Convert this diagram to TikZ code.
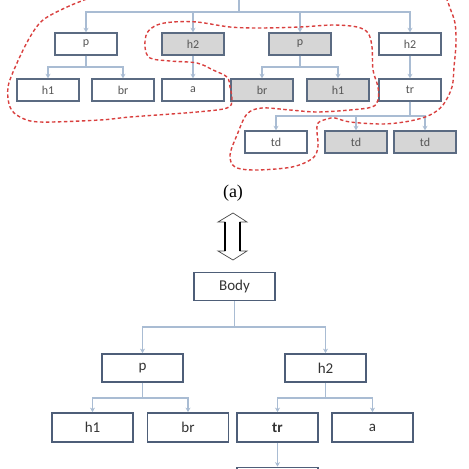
\documentclass[tikz,border=0pt]{standalone}
\usepackage{fontspec}
\setmainfont{Carlito}
\usetikzlibrary{arrows.meta}
\definecolor{boxline}{HTML}{5B6B82}
\definecolor{boxlineB}{HTML}{4E5E78}
\definecolor{graybox}{HTML}{D6D6D6}
\definecolor{conncol}{HTML}{A9BCD3}
\definecolor{txtA}{HTML}{555555}
\definecolor{txtB}{HTML}{333333}
\definecolor{redline}{HTML}{D9403F}
\tikzset{
  tbox/.style={draw=boxline, line width=1.4pt, fill=white, minimum width=62pt, minimum height=22pt, inner sep=0pt, text=txtA, font=\fontsize{12}{12}\selectfont},
  tgray/.style={tbox, fill=graybox},
  bbox/.style={draw=boxlineB, line width=1.8pt, fill=white, minimum width=81pt, minimum height=28pt, inner sep=0pt, text=txtB, font=\fontsize{15}{15}\selectfont},
  arr/.style={draw=conncol, line width=1.1pt, -{Stealth[length=4.5pt,width=5pt]}},
  reddash/.style={draw=redline, line width=1.4pt, dash pattern=on 3.5pt off 2.5pt},
}
\begin{document}
\begin{tikzpicture}[x=1pt,y=-1pt]
\useasboundingbox (0,0) rectangle (469,469);
\begin{scope}
\clip (0,0) rectangle (469,469);
% ---------- top tree (a) ----------
\coordinate (root) at (239,-2);
\node[tbox]  (pA)   at (86,44)  {p};
\node[tgray] (h2A)  at (193,44) {h2};
\node[tgray] (pB)   at (300,44) {p};
\node[tbox]  (h2B)  at (410,44) {h2};
\node[tbox]  (h1A)  at (48,90)  {h1};
\node[tbox]  (brA)  at (123,90) {br};
\node[tbox]  (aA)   at (193,90) {a};
\node[tgray] (brB)  at (262,90) {br};
\node[tgray] (h1B)  at (338,90) {h1};
\node[tbox]  (trA)  at (410,90) {tr};
\node[tbox]  (tdA)  at (276,142) {td};
\node[tgray] (tdB)  at (356,142) {td};
\node[tgray] (tdC)  at (425,142) {td};

\draw[arr] (root) |- (pA.north |- 0,12) -- (pA.north);
\draw[arr] (root) |- (h2A.north |- 0,12) -- (h2A.north);
\draw[arr] (root) |- (pB.north |- 0,12) -- (pB.north);
\draw[arr] (root) |- (h2B.north |- 0,12) -- (h2B.north);
\draw[arr] (pA.south) |- (h1A.north |- 0,67) -- (h1A.north);
\draw[arr] (pA.south) |- (brA.north |- 0,67) -- (brA.north);
\draw[arr] (h2A.south) -- (aA.north);
\draw[arr] (pB.south) |- (brB.north |- 0,67) -- (brB.north);
\draw[arr] (pB.south) |- (h1B.north |- 0,67) -- (h1B.north);
\draw[arr] (h2B.south) -- (trA.north);
\draw[arr] (trA.south) |- (tdA.north |- 0,116) -- (tdA.north);
\draw[arr] (trA.south) |- (tdB.north |- 0,116) -- (tdB.north);
\draw[arr] (trA.south) |- (tdC.north |- 0,116) -- (tdC.north);

% red dashed outline
\draw[reddash] plot[smooth, tension=0.55] coordinates {
 (92,-3) (67,7) (43,20) (30,37) (17,63) (8,87) (10,107) (20,117) (40,122)
 (100,120) (130,117) (197,112) (227,108) (232,100) (230,87) (227,77)
 (213,70) (197,63) (170,61) (150,58) (145,47) (147,33) (157,25) (173,22)
 (197,22) (230,27) (260,28) (300,27) (333,25) (357,27) (368,33) (372,47)
 (373,70) (378,87) (378,100) (372,107) (350,110) (317,112) (290,110)
 (262,108) (247,114) (237,135) (230,155) (235,167) (255,170) (292,167)
 (313,158) (318,146) (317,132) (318,123) (327,119) (335,118) (350,122)
 (383,124) (410,121) (430,115) (443,105) (452,87) (454,67) (456,43)
 (455,23) (450,8) (446,-3)};

% ---------- label and double arrow ----------
\node[text=black, font=\fontspec{Liberation Serif}\fontsize{18}{18}\selectfont] (lab) at (233,193) {(a)};
\draw[black!70, line width=0.7pt, fill=white]
  (233,213) -- (247,222) -- (240,222) -- (240,251) -- (247,251) -- (233,260)
  -- (218,251) -- (225,251) -- (225,222) -- (218,222) -- cycle;
\draw[black, line width=2pt] (225,222) -- (225,251) (240,222) -- (240,251);

% ---------- bottom tree ----------
\node[bbox] (body) at (234.5,286.5) {Body};
\node[bbox] (pC)   at (142.5,368)   {p};
\node[bbox] (h2C)  at (325.5,368)   {h2};
\node[bbox, minimum height=29pt] (h1C) at (92.5,427.5)  {h1};
\node[bbox, minimum height=29pt] (brC) at (188,427.5)   {br};
\node[bbox, minimum height=29pt] (trC) at (277.5,427.5) {\textbf{tr}};
\node[bbox, minimum height=29pt] (aC)  at (372.5,427.5) {a};
\node[bbox, minimum height=29pt] (tdD) at (277.5,482)   {};

\draw[arr] (body.south) |- (pC.north |- 0,327) -- (pC.north);
\draw[arr] (body.south) |- (h2C.north |- 0,327) -- (h2C.north);
\draw[arr] (pC.south) |- (h1C.north |- 0,398) -- (h1C.north);
\draw[arr] (pC.south) |- (brC.north |- 0,398) -- (brC.north);
\draw[arr] (h2C.south) |- (trC.north |- 0,398) -- (trC.north);
\draw[arr] (h2C.south) |- (aC.north |- 0,398) -- (aC.north);
\draw[arr] (trC.south) -- (tdD.north);
\end{scope}
\end{tikzpicture}
\end{document}
